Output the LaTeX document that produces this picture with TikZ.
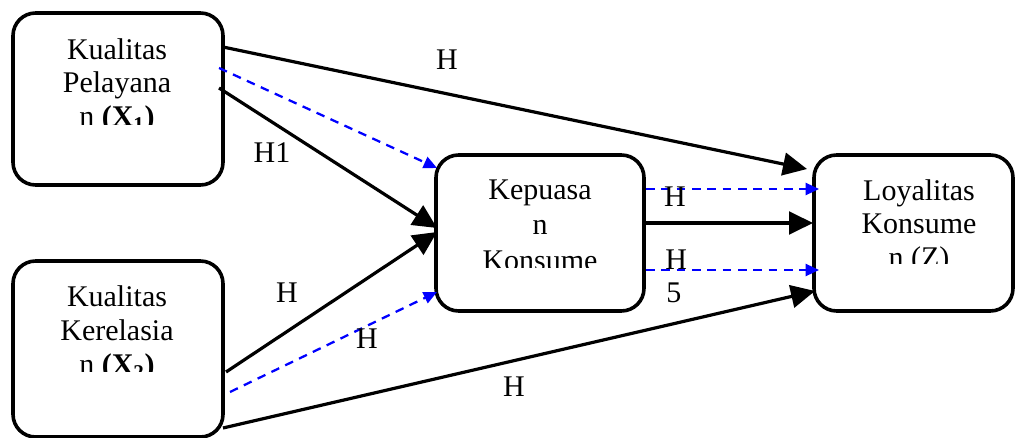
\documentclass[tikz,border=0pt]{standalone}
\usepackage{fontspec}
\setmainfont{Liberation Serif}
\usetikzlibrary{arrows.meta,calc}
\begin{document}
\begin{tikzpicture}[x=0.75pt,y=-0.75pt,
  box/.style={draw, line width=2.7pt, rounded corners=17pt, outer sep=0pt, inner sep=0pt},
  txt/.style={inner sep=0pt, anchor=base, font=\fontsize{22.5pt}{26pt}\selectfont},
  solidarr/.style={line width=2.4pt, -{Triangle[length=18pt,width=17pt]}},
  dasharr/.style={blue, line width=1.7pt, dash pattern=on 6.5pt off 5pt, -{Triangle[length=10pt,width=9pt]}}]
\useasboundingbox (0,0) rectangle (1015,438);

% boxes
\node[box, minimum width=157.5pt, minimum height=129pt] (x1) at (118,99) {};
\node[box, minimum width=157.5pt, minimum height=132pt] (x2) at (118,349) {};
\node[box, minimum width=156pt, minimum height=117pt] (kp) at (540,233) {};
\node[box, minimum width=149.25pt, minimum height=117pt] (z) at (913.5,233) {};

% box texts
\node[txt] (x1a) at (117,60) {Kualitas};
\node[txt] (x1b) at (117,93) {Pelayana};
\begin{scope}
  \clip (20,95) rectangle (215,125);
  \node[txt] (x1c) at (117,127) {n \textbf{(X\textsubscript{1})}};
\end{scope}

\node[txt] (x2a) at (117,307) {Kualitas};
\node[txt] (x2b) at (117,341) {Kerelasia};
\begin{scope}
  \clip (20,345) rectangle (215,372);
  \node[txt] (x2c) at (117,375) {n \textbf{(X\textsubscript{2})}};
\end{scope}

\node[txt] (kpa) at (540,200) {Kepuasa};
\node[txt] (kpb) at (540,235) {n};
\begin{scope}
  \clip (445,240) rectangle (635,268);
  \node[txt] (kpc) at (540,271) {Konsume};
\end{scope}

\node[txt] (za) at (919,201) {Loyalitas};
\node[txt] (zb) at (919,234) {Konsume};
\begin{scope}
  \clip (825,238) rectangle (1010,264);
  \node[txt] (zc) at (919,268) {n (Z)};
\end{scope}

% connectors
\draw[solidarr] ($(x1.east)+(0,-52)$) -- ($(z.west)+(-7,-64)$);
\draw[dasharr] ($(x1.east)+(-4,-31)$) -- ($(kp.west)+(1,-65)$);
\draw[solidarr] ($(x1.east)+(-4,-11)$) -- ($(kp.west)+(1,-5)$);
\draw[solidarr] ($(x2.east)+(3,23)$) -- ($(kp.west)+(1,-1)$);
\draw[dasharr] ($(x2.east)+(7,43)$) -- ($(kp.west)+(1,59)$);
\draw[solidarr] ($(x2.east)+(0,79)$) -- ($(z.west)+(1,58)$);
\draw[dasharr] ($(kp.east)+(2,-44)$) -- ($(z.west)+(5,-44)$);
\draw[solidarr] ($(kp.east)+(2,-10)$) -- ($(z.west)+(-1,-10)$);
\draw[dasharr] ($(kp.east)+(2,37)$) -- ($(z.west)+(5,37)$);

% labels
\node[txt] (l1) at (447,70) {H};
\node[txt] (l2) at (272,163) {H1};
\node[txt] (l3) at (287,303) {H};
\node[txt] (l4) at (367,349) {H};
\node[txt] (l5) at (514,397) {H};
\node[txt] (l6) at (675,207) {H};
\node[txt, anchor=base west] (l7) at (665,270) {H};
\node[txt, anchor=base west] (l8) at (666,303) {5};
\end{tikzpicture}
\end{document}
